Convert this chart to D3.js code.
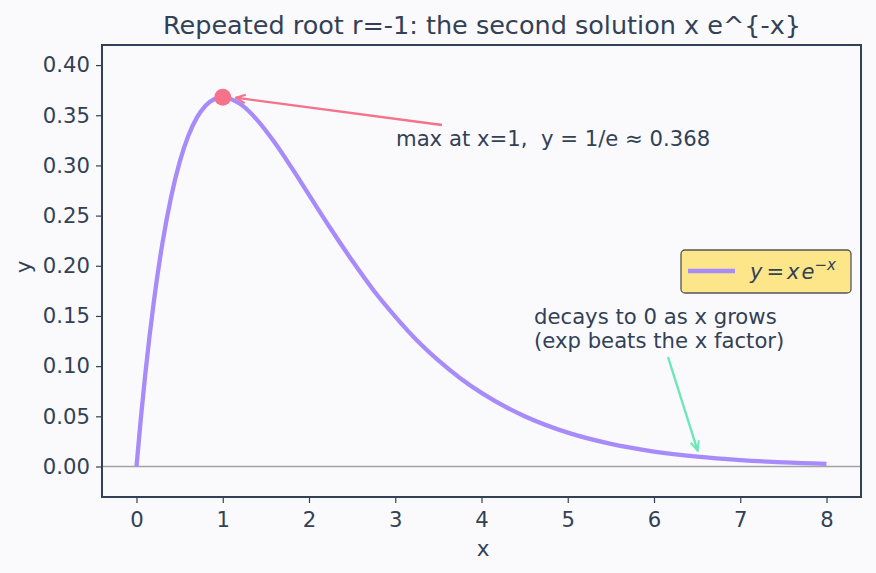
<!DOCTYPE html>
<html><head><meta charset="utf-8">
<script src="https://cdn.jsdelivr.net/npm/d3@7"></script>
<style>
html,body{margin:0;padding:0;background:#fafafd;}
svg{display:block;font-family:"DejaVu Sans",sans-serif;}
text{white-space:pre;}
</style></head>
<body>
<svg id="c" width="876" height="573"></svg>
<script>
// data
const xs = [0,0.05,0.1,0.2,0.3,0.4,0.5,0.6,0.7,0.8,0.9,1.0,1.2,1.4,1.6,1.8,2.0,2.25,2.5,2.75,3.0,3.25,3.5,3.75,4.0,4.5,5.0,5.5,6.0,6.5,7.0,7.5,8.0];
const ys = [0,0.0476,0.0905,0.1637,0.2222,0.2681,0.3033,0.3293,0.3476,0.3595,0.3659,0.3679,0.3614,0.3452,0.3230,0.2975,0.2707,0.2371,0.2052,0.1754,0.1494,0.1258,0.1057,0.0882,0.0733,0.0500,0.0337,0.0225,0.0149,0.0098,0.0064,0.0041,0.0027];
const xTicks = [0,1,2,3,4,5,6,7,8];
const yTicks = [0,0.05,0.10,0.15,0.20,0.25,0.30,0.35,0.40];
const maxPoint = [1, 0.368];
const decayPoint = [6.5, 0.0098];
const titleText = "Repeated root r=-1: the second solution x e^{-x}";
const maxLabel = "max at x=1,  y = 1/e ≈ 0.368";
const decayLabel = ["decays to 0 as x grows", "(exp beats the x factor)"];

const svg = d3.select("#c");
const L=102, R=861, T=45, B=497;
const x = d3.scaleLinear().domain([-0.4,8.4]).range([L,R]);
const y = d3.scaleLinear().domain([-0.0304,0.42]).range([B,T]);
const ink = "#334155";
const FS = 21.2;

svg.append("rect").attr("width",876).attr("height",573).attr("fill","#fafafd");

const defs = svg.append("defs");
function marker(id,color){
  defs.append("marker").attr("id",id).attr("viewBox","0 0 10 10").attr("refX",9).attr("refY",5)
    .attr("markerWidth",5).attr("markerHeight",5).attr("orient","auto-start-reverse")
    .append("path").attr("d","M1,1.5 L9,5 L1,8.5").attr("fill","none").attr("stroke",color).attr("stroke-width",1.7);
}
marker("ar","#f4728a"); marker("ag","#6ee7b7");

// zero line
svg.append("line").attr("x1",L).attr("x2",R).attr("y1",y(0)).attr("y2",y(0))
  .attr("stroke","#a3a3a3").attr("stroke-width",1.5);

// curve
const line = d3.line().x((d,i)=>x(xs[i])).y((d,i)=>y(ys[i])).curve(d3.curveMonotoneX);
svg.append("path").datum(ys).attr("d",line).attr("fill","none")
  .attr("stroke","#a78bfa").attr("stroke-width",4.3).attr("stroke-linecap","butt");

// max annotation
svg.append("line").attr("x1",442).attr("y1",125).attr("x2",x(maxPoint[0])+13).attr("y2",y(maxPoint[1])+0.5)
  .attr("stroke","#f4728a").attr("stroke-width",2.4).attr("marker-end","url(#ar)");
svg.append("circle").attr("cx",x(maxPoint[0])).attr("cy",y(maxPoint[1])).attr("r",8.5).attr("fill","#f4728a");
svg.append("text").attr("x",396).attr("y",146).attr("fill",ink).attr("font-size",FS).text(maxLabel);

// decay annotation
svg.append("line").attr("x1",668).attr("y1",357).attr("x2",x(decayPoint[0])+0.5).attr("y2",y(decayPoint[1])-6)
  .attr("stroke","#6ee7b7").attr("stroke-width",2.4).attr("marker-end","url(#ag)");
decayLabel.forEach((t,i)=>svg.append("text").attr("x",534).attr("y",324+i*24).attr("fill",ink).attr("font-size",FS).text(t));

// frame
svg.append("rect").attr("x",L).attr("y",T).attr("width",R-L).attr("height",B-T)
  .attr("fill","none").attr("stroke",ink).attr("stroke-width",2);

// axes
const xa = svg.append("g").attr("transform",`translate(0,${B})`)
  .call(d3.axisBottom(x).tickValues(xTicks).tickFormat(d3.format("d")).tickSize(6).tickPadding(9));
const ya = svg.append("g").attr("transform",`translate(${L},0)`)
  .call(d3.axisLeft(y).tickValues(yTicks).tickFormat(d3.format(".2f")).tickSize(6).tickPadding(6));
[xa,ya].forEach(g=>{
  g.select(".domain").remove();
  g.selectAll("line").attr("stroke",ink).attr("stroke-width",1.2);
  g.selectAll("text").attr("fill",ink).attr("font-size",FS).attr("font-family","DejaVu Sans");
});

// labels
svg.append("text").attr("x",483).attr("y",556).attr("text-anchor","middle").attr("fill",ink).attr("font-size",21.5).text("x");
svg.append("text").attr("transform","translate(31,267) rotate(-90)").attr("text-anchor","middle").attr("fill",ink).attr("font-size",21.5).text("y");
svg.append("text").attr("x",482).attr("y",34).attr("text-anchor","middle").attr("fill",ink).attr("font-size",25.5).text(titleText);

// legend
const lg = svg.append("g");
lg.append("rect").attr("x",681).attr("y",250).attr("width",170).attr("height",43).attr("rx",4)
  .attr("fill","#fde68a").attr("stroke","#555555").attr("stroke-width",1.3);
lg.append("line").attr("x1",688).attr("x2",735).attr("y1",271).attr("y2",271).attr("stroke","#a78bfa").attr("stroke-width",4.3);
const lt = lg.append("text").attr("x",750).attr("y",279).attr("fill",ink).attr("font-size",21).attr("font-style","italic");
lt.append("tspan").text("y");
lt.append("tspan").attr("dx",4).attr("font-style","normal").text("=");
lt.append("tspan").attr("dx",3).text("x");
lt.append("tspan").attr("dx",2).text("e");
lt.append("tspan").attr("dy",-9).attr("font-size",15).text("−x");
</script>
</body></html>
